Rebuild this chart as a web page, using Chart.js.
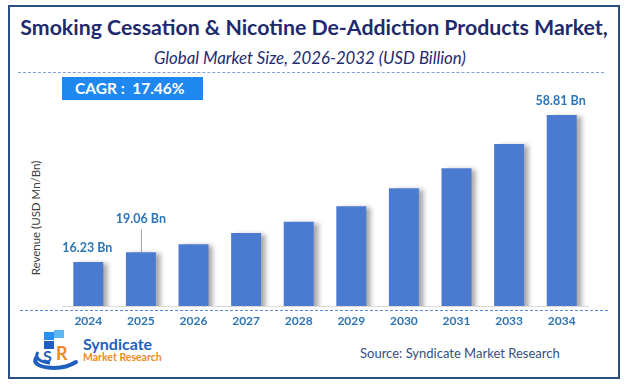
<!DOCTYPE html>
<html>
<head>
<meta charset="utf-8">
<script src="https://cdn.jsdelivr.net/npm/chart.js@4.4.1/dist/chart.umd.min.js"></script>
<style>
  html, body { margin: 0; padding: 0; background: #fff; }
  body { width: 624px; height: 385px; position: relative; overflow: hidden; font-family: Lato, "Open Sans", sans-serif; }
  #frame { position: absolute; left: 8px; top: 5px; width: 608px; height: 370px; border: 2px solid #2b4f7e; }
  #chart { position: absolute; left: 0; top: 0; }
  .title { position: absolute; left: 0; width: 624px; text-align: center; color: #1f2a6e; white-space: nowrap; }
  #t1 { top: 14px; left: 2px; font-size: 21.3px; font-weight: 700; }
  #t2 { top: 47px; left: -2px; font-size: 16.8px; font-style: italic; }
  .dash { position: absolute; height: 0; border-top: 1px dashed #7f9fd6; }
  #cagr { position: absolute; left: 62px; top: 77px; width: 141px; height: 23px; background: #1e88f0;
          color: #fff; font-weight: 700; font-size: 15.5px; line-height: 23px; box-sizing: border-box; padding-left: 13px; }
  #ytitle { position: absolute; left: 35px; top: 218px; transform: translate(-50%, -50%) rotate(-90deg);
            font-size: 11.5px; color: #404040; white-space: nowrap; }
  #logo { position: absolute; left: 30px; top: 328px; }
  #brand1 { position: absolute; left: 83px; top: 334px; font-size: 16px; font-weight: 700; color: #1f5fbf; }
  #brand2 { position: absolute; left: 83px; top: 351px; font-size: 10.5px; font-weight: 700; color: #f08a24; }
  #source { position: absolute; left: 360px; top: 345px; font-size: 13px; color: #2f4f7f; }
</style>
</head>
<body>
<div id="frame"></div>
<div class="title" id="t1">Smoking Cessation &amp; Nicotine De-Addiction Products Market,</div>
<div class="title" id="t2">Global Market Size, 2026-2032 (USD Billion)</div>
<div class="dash" style="left:18px; top:72px; width:586px;"></div>
<div id="cagr">CAGR :&nbsp; 17.46%</div>
<div id="ytitle">Revenue (USD Mn/Bn)</div>
<div class="dash" style="left:20px; top:310px; width:588px; border-top-color:#5b8bd6;"></div>
<svg id="logo" width="52" height="44" viewBox="0 0 52 44">
  <path d="M6 30 C0 40 30 44 46 34" stroke="#1f5fbf" stroke-width="4" fill="none" stroke-linecap="round"/>
  <path d="M8 24 C4 30 10 34 20 35" stroke="#1f5fbf" stroke-width="3" fill="none"/>
  <rect x="14" y="4" width="10" height="8" fill="#2a8ff0"/>
  <rect x="24" y="2" width="10" height="8" fill="#5fb6f5"/>
  <rect x="14" y="13" width="10" height="8" fill="#1f5fbf"/>
  <text x="13" y="34" font-family="Lato" font-weight="700" font-size="16" fill="#1f5fbf">S</text>
  <text x="26" y="32" font-family="Lato" font-weight="700" font-size="18" fill="#f08a24">R</text>
</svg>
<div id="brand1">Syndicate</div>
<div id="brand2">Market Research</div>
<div id="source">Source: Syndicate Market Research</div>
<canvas id="chart" width="624" height="385"></canvas>
<script>
const years = ["2024", "2025", "2026", "2027", "2028", "2029", "2030", "2031", "2033", "2034"]
const revenue = [16.23, 19.06, 21.4, 24.6, 27.9, 32.4, 37.6, 43.4, 50.4, 58.81]
const valueLabels = ["16.23 Bn", "19.06 Bn", "", "", "", "", "", "", "", "58.81 Bn"]

// soft grey shadow on the right side of each bar
const barShadow = {
  id: "barShadow",
  beforeDatasetsDraw(chart) {
    const ctx = chart.ctx
    ctx.save()
    ctx.shadowColor = "rgba(0, 0, 0, 0.35)"
    ctx.shadowBlur = 5
    ctx.shadowOffsetX = 5
    ctx.shadowOffsetY = 1
  },
  afterDatasetsDraw(chart) {
    chart.ctx.restore()
  }
}

// value labels above selected bars, with a leader line for the raised one
const barLabels = {
  id: "barLabels",
  afterDatasetsDraw(chart, args, opts) {
    const ctx = chart.ctx
    const bars = chart.getDatasetMeta(0).data
    ctx.save()
    ctx.font = "bold 12.5px Lato"
    ctx.fillStyle = "#2e75b6"
    ctx.textAlign = "center"
    ctx.textBaseline = "middle"
    bars.forEach((bar, i) => {
      const text = valueLabels[i]
      if (!text) return
      if (i === opts.leaderIndex) {
        ctx.strokeStyle = "#a0a0a0"
        ctx.lineWidth = 1
        ctx.beginPath()
        ctx.moveTo(bar.x + 0.5, bar.y)
        ctx.lineTo(bar.x + 0.5, bar.y - opts.leaderLength)
        ctx.stroke()
        ctx.fillText(text, bar.x, bar.y - opts.leaderLength - 10)
      } else {
        ctx.fillText(text, bar.x - 1, bar.y - 14)
      }
    })
    ctx.restore()
  }
}

new Chart(document.getElementById("chart"), {
  type: "bar",
  data: {
    labels: years,
    datasets: [{
      data: revenue,
      backgroundColor: "#4b7bd1",
      borderWidth: 0,
      categoryPercentage: 1,
      barPercentage: 0.57
    }]
  },
  options: {
    responsive: false,
    animation: false,
    layout: { padding: { left: 62, right: 36, top: 96, bottom: 48.6 } },
    plugins: {
      legend: { display: false },
      tooltip: { enabled: false },
      barLabels: { leaderIndex: 1, leaderLength: 23 }
    },
    scales: {
      x: {
        grid: { display: false, drawTicks: false },
        border: { display: true, color: "#d9d9d9", width: 1 },
        ticks: { color: "#2e75b6", padding: 8, font: { family: "Lato", size: 12, weight: "bold" } }
      },
      y: {
        display: false,
        min: 3.5,
        max: 64.3
      }
    }
  },
  plugins: [barShadow, barLabels]
})
</script>
</body>
</html>
